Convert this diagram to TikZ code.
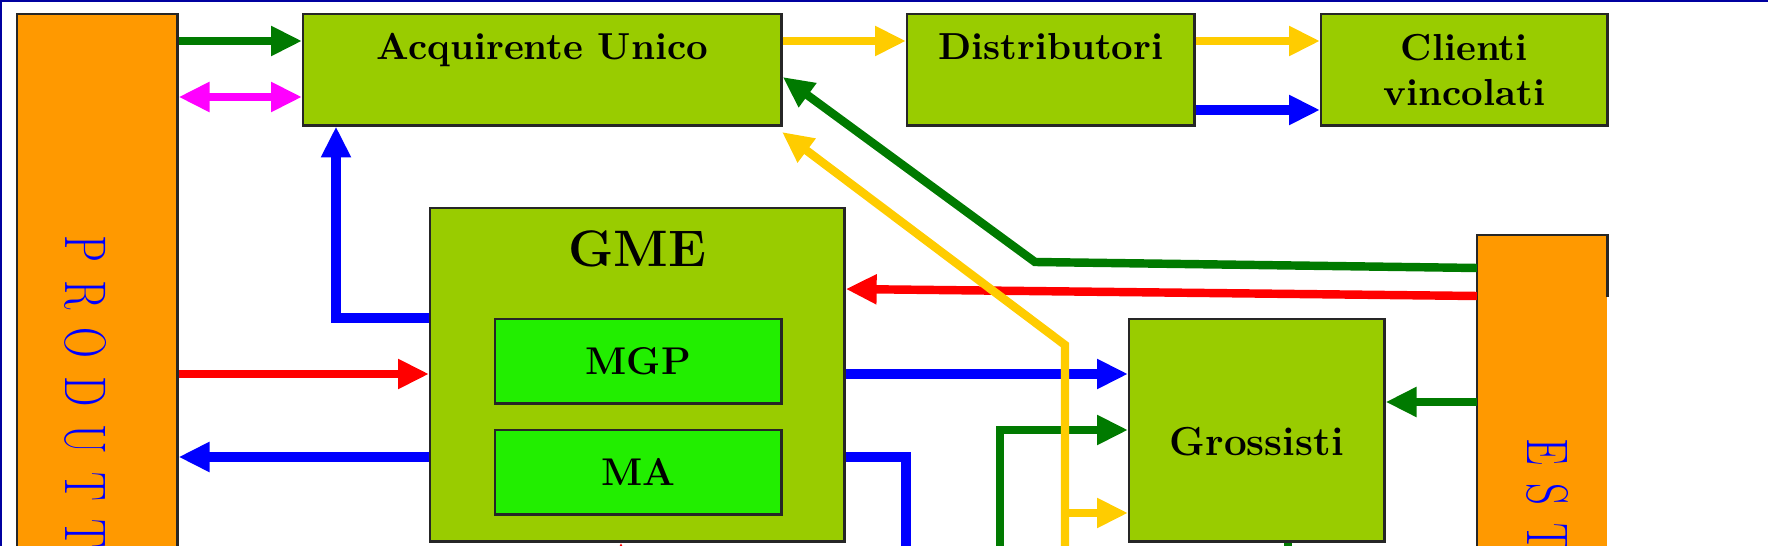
\documentclass[tikz,border=0pt]{standalone}
\usetikzlibrary{arrows.meta,calc}

\definecolor{boxgreen}{HTML}{99CC00}
\definecolor{mktgreen}{HTML}{22EE00}
\definecolor{sideorange}{HTML}{FF9900}
\definecolor{flowgreen}{HTML}{007A00}
\definecolor{flowyellow}{HTML}{FFCC00}
\definecolor{flowblue}{HTML}{0000FF}
\definecolor{flowred}{HTML}{FF0000}
\definecolor{flowpink}{HTML}{FF00FF}
\definecolor{edgeblue}{HTML}{0000A0}

\newcommand{\lgap}{\hspace{7pt}}

\tikzset{
  box/.style={draw=black!85,line width=0.7pt,fill=boxgreen,anchor=north west,inner sep=0pt},
  mktbox/.style={box,fill=mktgreen,font=\fontsize{11}{13}\selectfont\bfseries},
  sidebox/.style={fill=sideorange,anchor=north west,inner sep=0pt},
  title/.style={anchor=base,inner sep=0pt,font=\fontsize{10.7}{12.8}\selectfont\bfseries},
  vlbl/.style={rotate=-90,anchor=base west,inner sep=0pt,text=flowblue,font=\fontsize{16.7}{20}\selectfont},
  tip/.style={Triangle[length=8.8pt,width=8pt]},
  flow/.style={line width=2.4pt,-{Triangle[length=8.8pt,width=8pt]}},
  dflow/.style={line width=2.4pt,{Triangle[length=8.8pt,width=8pt]}-{Triangle[length=8.8pt,width=8pt]}},
  bflow/.style={flow,line width=2.85pt,flowblue},
}

\begin{document}
\begin{tikzpicture}[x=0.01cm,y=-0.01cm]
  \useasboundingbox (0,0) rectangle (1768,546);
  \clip (0,0) rectangle (1768,546);

  % boxes
  \node[sidebox,draw=black!85,line width=0.7pt,minimum width=1.6cm,minimum height=8cm] (prod) at (16,13) {};
  \node[box,minimum width=4.78cm,minimum height=1.11cm] (acq) at (302,13) {};
  \node[box,minimum width=2.87cm,minimum height=1.11cm] (dist) at (906,13) {};
  \node[box,minimum width=2.86cm,minimum height=1.11cm,align=center,
        font=\fontsize{10.7}{12.8}\selectfont\bfseries] (cli) at (1320,13) {Clienti\\vincolati};
  \node[box,minimum width=4.14cm,minimum height=3.33cm] (gme) at (429,207) {};
  \node[mktbox,minimum width=2.86cm,minimum height=0.84cm] (mgp) at (494,318) {MGP};
  \node[mktbox,minimum width=2.86cm,minimum height=0.84cm] (ma) at (494,429) {MA};
  \node[box,minimum width=2.55cm,minimum height=2.22cm] (gros) at (1128,318) {};
  \node[sidebox,minimum width=1.29cm,minimum height=6cm] (est) at (1477,235) {};
  \draw[black!85,line width=0.7pt] (est.south west) -- (est.north west) -- (est.north east) -- ++(0,62);

  % labels
  \node[title] (acqlbl) at ($(acq.north)+(0,47)$) {Acquirente Unico};
  \node[title] (distlbl) at ($(dist.north)+(0,47)$) {Distributori};
  \node[title,font=\fontsize{14.6}{17}\selectfont\bfseries] (gmelbl) at ($(gme.north)+(0,60)$) {GME};
  \node[title,font=\fontsize{11.5}{14}\selectfont\bfseries] (groslbl) at ($(gros.center)+(0,25)$) {Grossisti};
  \node[vlbl] (prodlbl) at (65,235) {\scalebox{0.73}[1]{P\lgap R\lgap O\lgap D\lgap U\lgap T\lgap T}};
  \node[vlbl] (estlbl) at (1527,438) {\scalebox{0.73}[1]{E\lgap S\lgap T}};

  % levels and bends
  \coordinate (yA) at (0,41);
  \coordinate (yB) at (0,97);
  \coordinate (yC) at (0,110);
  \coordinate (yD) at (0,374);
  \coordinate (yE) at (0,457);
  \coordinate (yF) at (0,402);
  \coordinate (yG) at (0,430);
  \coordinate (yH) at (0,513);
  \coordinate (bU) at (336,318);
  \coordinate (bD) at (906,700);
  \coordinate (gS) at (0,268);
  \coordinate (gK) at (1035,262);
  \coordinate (gT) at (0,77);
  \coordinate (gB) at (1000,700);
  \coordinate (gD) at (1288,700);
  \coordinate (rS) at (0,296);
  \coordinate (rT) at (0,289);
  \coordinate (rB) at (621,700);
  \coordinate (wB) at (1065,700);
  \coordinate (wK) at (1065,345);
  \coordinate (wT) at (782,132);

  % connectors
  \draw[flow,flowgreen] (prod.east |- yA) -- (acq.west |- yA);
  \draw[dflow,flowpink] (prod.east |- yB) -- (acq.west |- yB);
  \draw[flow,flowyellow] (acq.east |- yA) -- (dist.west |- yA);
  \draw[flow,flowyellow] (dist.east |- yA) -- (cli.west |- yA);
  \draw[bflow] (dist.east |- yC) -- (cli.west |- yC);
  \draw[bflow] (gme.west |- bU) -| (acq.south -| bU);
  \draw[flow,flowred] (prod.east |- yD) -- (gme.west |- yD);
  \draw[bflow] (gme.west |- yE) -- (prod.east |- yE);
  \draw[bflow] (gme.east |- yD) -- (gros.west |- yD);
  \draw[bflow,-] (gme.east |- yE) -| (bD);
  \draw[flow,flowgreen] (est.west |- gS) -- (gK) -- (acq.east |- gT);
  \draw[flow,flowred] (est.west |- rS) -- (gme.east |- rT);
  \draw[flow,flowred] (rB) -- (gme.south -| rB);
  \draw[flow,flowgreen] (gB) |- (gros.west |- yG);
  \draw[flow,flowgreen] (est.west |- yF) -- (gros.east |- yF);
  \draw[line width=2.4pt,flowgreen] (gros.south -| gD) -- (gD);
  \draw[flow,flowyellow] (wB) -- (wK) -- (wT);
  \draw[flow,flowyellow] (wB |- yH) -- (gros.west |- yH);

  % frame
  \draw[edgeblue,line width=1pt] (0,546) -- (0,0) -- (1768,0);
\end{tikzpicture}
\end{document}
